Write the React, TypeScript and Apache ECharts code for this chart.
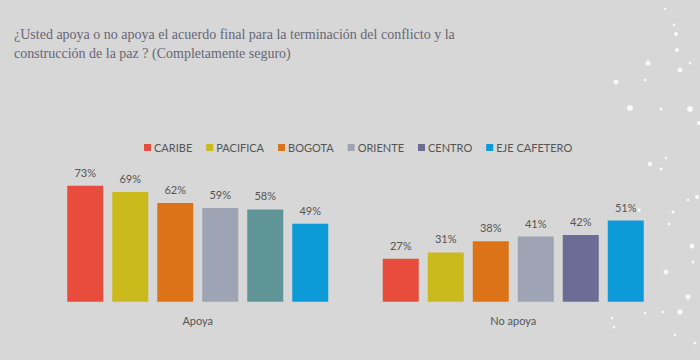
import React, { useEffect, useRef } from "react";
import * as echarts from "echarts";

const titleLines = [
  "¿Usted apoya o no apoya el acuerdo final para la terminación del conflicto y la",
  "construcción de la paz ? (Completamente seguro)",
];
const categories = ["Apoya", "No apoya"];
const regions = ["CARIBE", "PACIFICA", "BOGOTA", "ORIENTE", "CENTRO", "EJE CAFETERO"];
const caribe = [73, 27];
const pacifica = [69, 31];
const bogota = [62, 38];
const oriente = [59, 41];
const centro = [58, 42];
const ejeCafetero = [49, 51];
const seriesValues = [caribe, pacifica, bogota, oriente, centro, ejeCafetero];
const colors = ["#e84c3d", "#cbba1c", "#dc7318", "#9ea4b4", "#6c6c96", "#0c9bd7"];
const centroApoyaColor = "#5f9597";

const dots: [number, number, number][] = [
  [665, 9, 1.2], [674, 25, 1.3], [676, 34, 2], [677, 50, 2], [648, 63, 2.5], [680, 70, 2.5],
  [690, 63, 1.3], [616, 82, 2.5], [645, 80, 1.3], [630, 108, 3], [661, 109, 1.5], [690, 109, 3],
  [699, 123, 2], [650, 164, 2.2], [666, 158, 1.3], [661, 169, 1.5], [688, 200, 1.3], [697, 197, 2],
  [673, 212, 1.5], [669, 224, 1.5], [639, 210, 1.8], [692, 246, 2.5], [693, 262, 1.5],
  [666, 272, 2.5], [688, 297, 2.5], [680, 312, 2.5], [663, 312, 1.3], [645, 313, 1.3],
  [612, 318, 1.3], [614, 327, 1.3], [675, 335, 1.3], [695, 343, 1.3],
];

export default function App() {
  const ref = useRef<HTMLDivElement>(null);
  useEffect(() => {
    if (!ref.current) return;
    const chart = echarts.init(ref.current, null, { renderer: "svg" });
    const series = regions.map((name, i) => ({
      name,
      type: "bar",
      barWidth: 36,
      barGap: "25%",
      itemStyle: { color: colors[i] },
      label: {
        show: true,
        position: "top",
        distance: 8,
        formatter: "{c}%",
        color: "#555555",
        fontSize: 11,
        fontFamily: "Lato",
      },
      data: seriesValues[i].map((v, j) =>
        name === "CENTRO" && j === 0 ? { value: v, itemStyle: { color: centroApoyaColor } } : v
      ),
    }));
    chart.setOption({
      animation: false,
      backgroundColor: "#d7d7d7",
      title: {
        text: titleLines.join("\n"),
        left: 14,
        top: 25,
        padding: 0,
        textStyle: {
          fontFamily: "Liberation Serif",
          fontSize: 14,
          fontWeight: "normal",
          color: "#666676",
          lineHeight: 19,
        },
      },
      legend: {
        data: regions,
        left: 139,
        top: 137,
        itemWidth: 7,
        itemHeight: 7,
        itemGap: 14,
        icon: "rect",
        textStyle: { color: "#555555", fontSize: 11, fontFamily: "Lato", padding: [0, 0, 0, -2] },
      },
      grid: { left: 40, right: 29, top: 142.7, bottom: 58.3 },
      xAxis: {
        type: "category",
        data: categories,
        axisLine: { show: false },
        axisTick: { show: false },
        axisLabel: { color: "#555555", fontSize: 11, fontFamily: "Lato", margin: 13 },
      },
      yAxis: { type: "value", min: 0, max: 100, show: false, splitLine: { show: false } },
      graphic: dots.map(([x, y, r]) => ({
        type: "circle",
        shape: { cx: x, cy: y, r },
        style: { fill: "rgba(255,255,255,0.85)" },
        silent: true,
      })),
      series,
    });
    return () => chart.dispose();
  }, []);
  return (
    <div
      ref={ref}
      style={{ position: "fixed", left: 0, top: 0, width: 700, height: 360 }}
    />
  );
}
